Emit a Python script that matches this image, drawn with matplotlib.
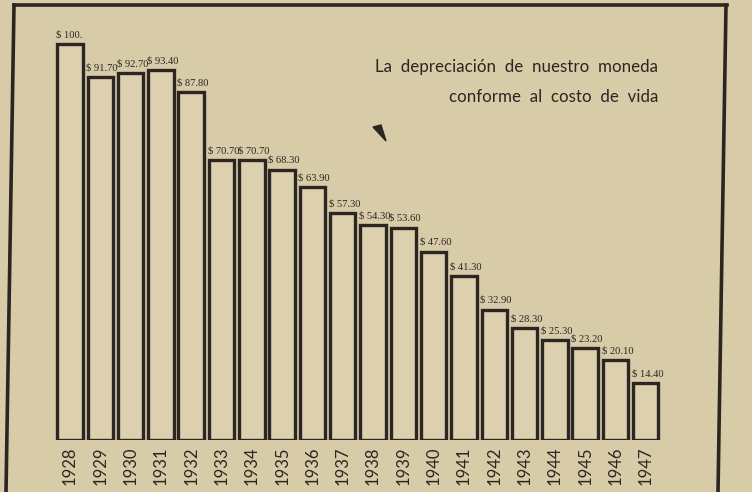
import matplotlib.pyplot as plt
from matplotlib.lines import Line2D
from matplotlib.patches import Polygon

# Data
years = ["1928", "1929", "1930", "1931", "1932", "1933", "1934", "1935", "1936", "1937",
         "1938", "1939", "1940", "1941", "1942", "1943", "1944", "1945", "1946", "1947"]
values = [100.0, 91.70, 92.70, 93.40, 87.80, 70.70, 70.70, 68.30, 63.90, 57.30,
          54.30, 53.60, 47.60, 41.30, 32.90, 28.30, 25.30, 23.20, 20.10, 14.40]
labels = ["$ 100.", "$ 91.70", "$ 92.70", "$ 93.40", "$ 87.80", "$ 70.70", "$ 70.70",
          "$ 68.30", "$ 63.90", "$ 57.30", "$ 54.30", "$ 53.60", "$ 47.60", "$ 41.30",
          "$ 32.90", "$ 28.30", "$ 25.30", "$ 23.20", "$ 20.10", "$ 14.40"]
title_lines = ["La  depreciación  de  nuestro  moneda", "conforme  al  costo  de  vida"]

PAPER = "#d8cba8"
INK = "#2b2621"
W, H = 752, 492

fig = plt.figure(figsize=(W / 100, H / 100), dpi=100, facecolor=PAPER)

# axes placed in pixel terms: baseline at y=440, bars from x~57
ax = fig.add_axes([40 / W, 52 / H, 660 / W, 436 / H])
ax.patch.set_alpha(0)
xs = list(range(len(years)))
ax.bar(xs, values, width=0.84, color="#dcd0ae", edgecolor=INK, linewidth=2.4)
ax.set_xlim(-0.99, 20.79)
ax.set_ylim(0, 110.1)
for s in ax.spines.values():
    s.set_visible(False)
ax.set_yticks([])
ax.set_xticks([])

for x, v, lab, yr in zip(xs, values, labels, years):
    ax.text(x - 0.46, v + 1.2, lab, ha="left", va="bottom", fontsize=7.6,
            family="Liberation Serif", color=INK)
    ax.text(x, -1.6, yr, rotation=90, ha="center", va="top",
            fontsize=12, family="Lato", color=INK)

# heading, right aligned
fig.text(658 / W, 1 - 67 / H, title_lines[0], ha="right", va="center",
         fontsize=12.2, family="Lato", color=INK)
fig.text(658 / W, 1 - 97 / H, title_lines[1], ha="right", va="center",
         fontsize=12.2, family="Lato", color=INK)

# hand drawn frame around the chart
def px(x, y):
    return x / W, 1 - y / H

for (x0, y0), (x1, y1) in [((14, 5), (727, 5)), ((14, 5), (6, 492)), ((726, 5), (718, 492))]:
    a, b = px(x0, y0)
    c, d = px(x1, y1)
    fig.add_artist(Line2D([a, c], [b, d], color=INK, linewidth=2.6))

# small ink mark
fig.add_artist(Polygon([px(373, 127), px(381, 125), px(386, 141)], closed=True,
                       color=INK, transform=fig.transFigure))

fig.savefig("out.png", dpi=100, facecolor=PAPER)
